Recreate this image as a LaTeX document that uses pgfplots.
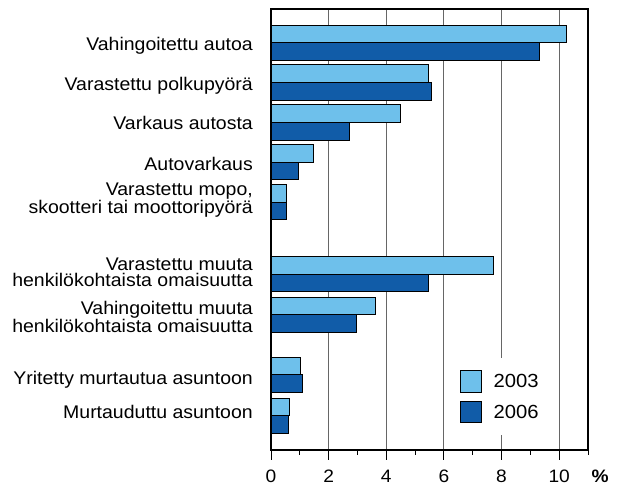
\documentclass[border=0pt]{standalone}
\usepackage{pgfplots}
\pgfplotsset{compat=1.18}
\usepackage{fontspec}
\setmainfont{Liberation Sans}[FakeStretch=1.065]
\definecolor{lightb}{RGB}{110,192,235}
\definecolor{darkb}{RGB}{17,92,168}
\begin{document}
\begin{tikzpicture}
\path[use as bounding box] (0,0) rectangle (618pt,486pt);
\begin{axis}[
  at={(271pt,36pt)}, anchor=south west,
  scale only axis, width=317pt, height=441pt,
  xmin=0, xmax=11, ymin=-450, ymax=-9,
  xbar, bar width=17.6pt,
  axis line style={line width=1.2pt, black},
  xtick={0,2,...,10}, minor xtick={1,3,...,11},
  xtick pos=bottom, ytick pos=left, tick align=outside,
  major tick length=10pt, minor tick length=5pt,
  xtick style={line width=1pt, black},
  ytick style={draw=none},
  xmajorgrids, grid style={line width=1.1pt, black!60},
  /pgf/number format/assume math mode=true,
  xticklabel style={font=\fontsize{18}{20}\selectfont, inner sep=0pt, anchor=north, yshift=-10pt},
  yticklabel style={font=\fontsize{18.3}{16.5}\selectfont, align=right, anchor=base east, inner sep=0pt, xshift=-8pt},
  ytick={-51,-91,-130,-171,-385,-419},
  yticklabels={Vahingoitettu autoa, Varastettu polkupyörä, Varkaus autosta, Autovarkaus, Yritetty murtautua asuntoon, Murtauduttu asuntoon},
  extra y ticks={-214,-286.7,-332.3},
  extra y tick labels={{Varastettu mopo,\\skootteri tai moottoripyörä},{Varastettu muuta\\henkilökohtaista omaisuutta},{Vahingoitettu muuta\\henkilökohtaista omaisuutta}},
  extra y tick style={ytick style={draw=none}},
  xlabel={\textbf{\%}},
  xlabel style={at={(axis description cs:1.038,0)}, anchor=north, inner sep=0pt, yshift=-20pt, font=\fontsize{18}{20}\selectfont},
  legend style={at={(axis cs:6.15,-358)}, anchor=north west, draw=none, fill=white,
    inner xsep=12pt, inner ysep=12pt, row sep=8.5pt,
    font=\fontsize{19}{20}\selectfont,
    nodes={inner sep=0pt},
    cells={anchor=west},
    /tikz/every odd column/.append style={column sep=11.7pt}},
  legend image code/.code={\draw[#1, line width=1pt] (0pt,-10.7pt) rectangle (20.5pt,10.7pt);},
]
\addplot[fill=lightb, draw=black, line width=1pt, bar shift=8.8pt] coordinates {
  (10.27,-42.7) (5.48,-82.5) (4.49,-122.5) (1.47,-162.3) (0.53,-202.3)
  (7.71,-274.3) (3.62,-315) (1.01,-375) (0.65,-415.7)};
\addplot[fill=darkb, draw=black, line width=1pt, bar shift=-8.8pt] coordinates {
  (9.31,-42.7) (5.56,-82.5) (2.72,-122.5) (0.96,-162.3) (0.53,-202.3)
  (5.48,-274.3) (2.97,-315) (1.08,-375) (0.60,-415.7)};
\legend{2003,2006}
\end{axis}
\end{tikzpicture}
\end{document}
